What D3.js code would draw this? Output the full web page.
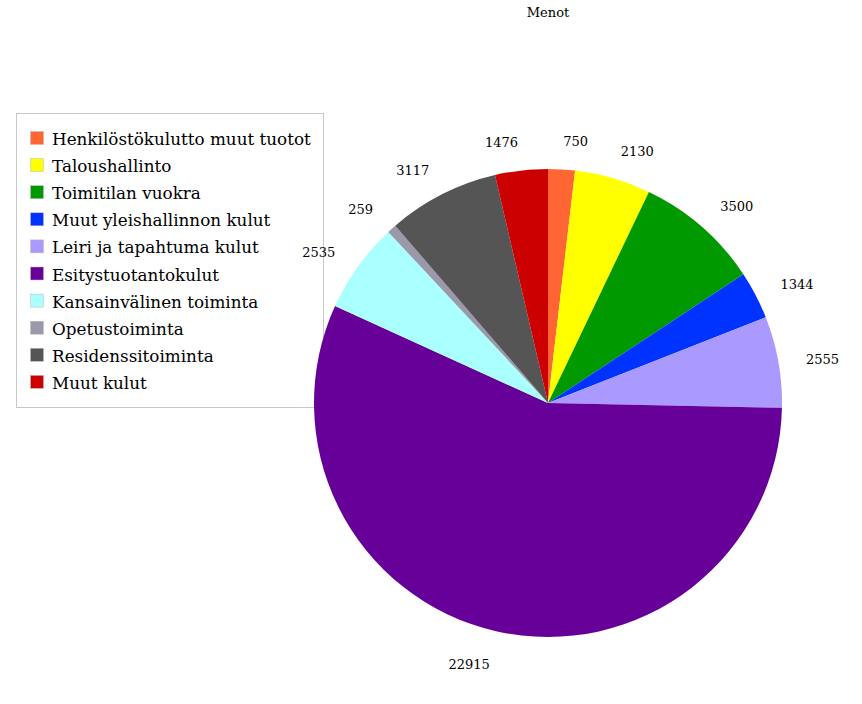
<!DOCTYPE html>
<html><head><meta charset="utf-8">
<script src="https://cdn.jsdelivr.net/npm/d3@7"></script>
<style>body{margin:0;background:#fff}svg{display:block}</style>
</head><body>
<script>
const categories = ["Henkilöstökulutto muut tuotot","Taloushallinto","Toimitilan vuokra","Muut yleishallinnon kulut","Leiri ja tapahtuma kulut","Esitystuotantokulut","Kansainvälinen toiminta","Opetustoiminta","Residenssitoiminta","Muut kulut"];
const values = [750,2130,3500,1344,2555,22915,2535,259,3117,1476];
const colors = ["#ff6633","#ffff00","#009900","#0033ff","#aa99ff","#660099","#aaffff","#9999aa","#555555","#cc0000"];
const title = "Menot";

const W=862,H=704, cx=548, cy=403, R=234;
const svg=d3.select("body").append("svg").attr("width",W).attr("height",H);
const font="'DejaVu Serif', Georgia, serif";

svg.append("text").attr("x",548).attr("y",17).attr("text-anchor","middle")
  .attr("font-family",font).attr("font-size",13).attr("fill","#000").text(title);

const data=categories.map((c,i)=>({c,v:values[i],col:colors[i]}));

// legend (drawn first, pie and labels overlap it)
svg.append("rect").attr("x",16.5).attr("y",113.5).attr("width",307).attr("height",294)
  .attr("fill","#fff").attr("stroke","#c8c8c8");
const lg=svg.append("g");
const items=lg.selectAll("g").data(data).join("g")
  .attr("transform",(d,i)=>`translate(30,${131+i*27.1})`);
items.append("rect").attr("x",0.5).attr("y",0.5).attr("width",13).attr("height",13)
  .attr("fill",d=>d.col).attr("stroke","#bbb").attr("stroke-width",0.5);
const texts=items.append("text").attr("x",22).attr("y",14)
  .attr("font-family",font).attr("font-size",16).attr("fill","#000").text(d=>d.c);
const w0=texts.nodes()[0].getComputedTextLength();
texts.attr("font-size",16*259/w0);

const pie=d3.pie().value(d=>d.v).sort(null);
const arcs=pie(data);
const arc=d3.arc().innerRadius(0).outerRadius(R);
const g=svg.append("g").attr("transform",`translate(${cx},${cy})`);
g.selectAll("path").data(arcs).join("path").attr("d",arc).attr("fill",d=>d.data.col);

const rl=262;
g.selectAll("text.lbl").data(arcs).join("text").attr("class","lbl")
  .each(function(d){
    const a=(d.startAngle+d.endAngle)/2;
    const s=Math.sin(a), c=Math.cos(a);
    const x=rl*s, y=-rl*c + 3 - 3*c*Math.abs(c);
    d3.select(this).attr("x",x).attr("y",y)
      .attr("text-anchor", s>=0?"start":"end")
      .attr("dominant-baseline","central");
  })
  .attr("font-family",font).attr("font-size",13).attr("fill","#000")
  .text(d=>d.data.v);
</script>
</body></html>
